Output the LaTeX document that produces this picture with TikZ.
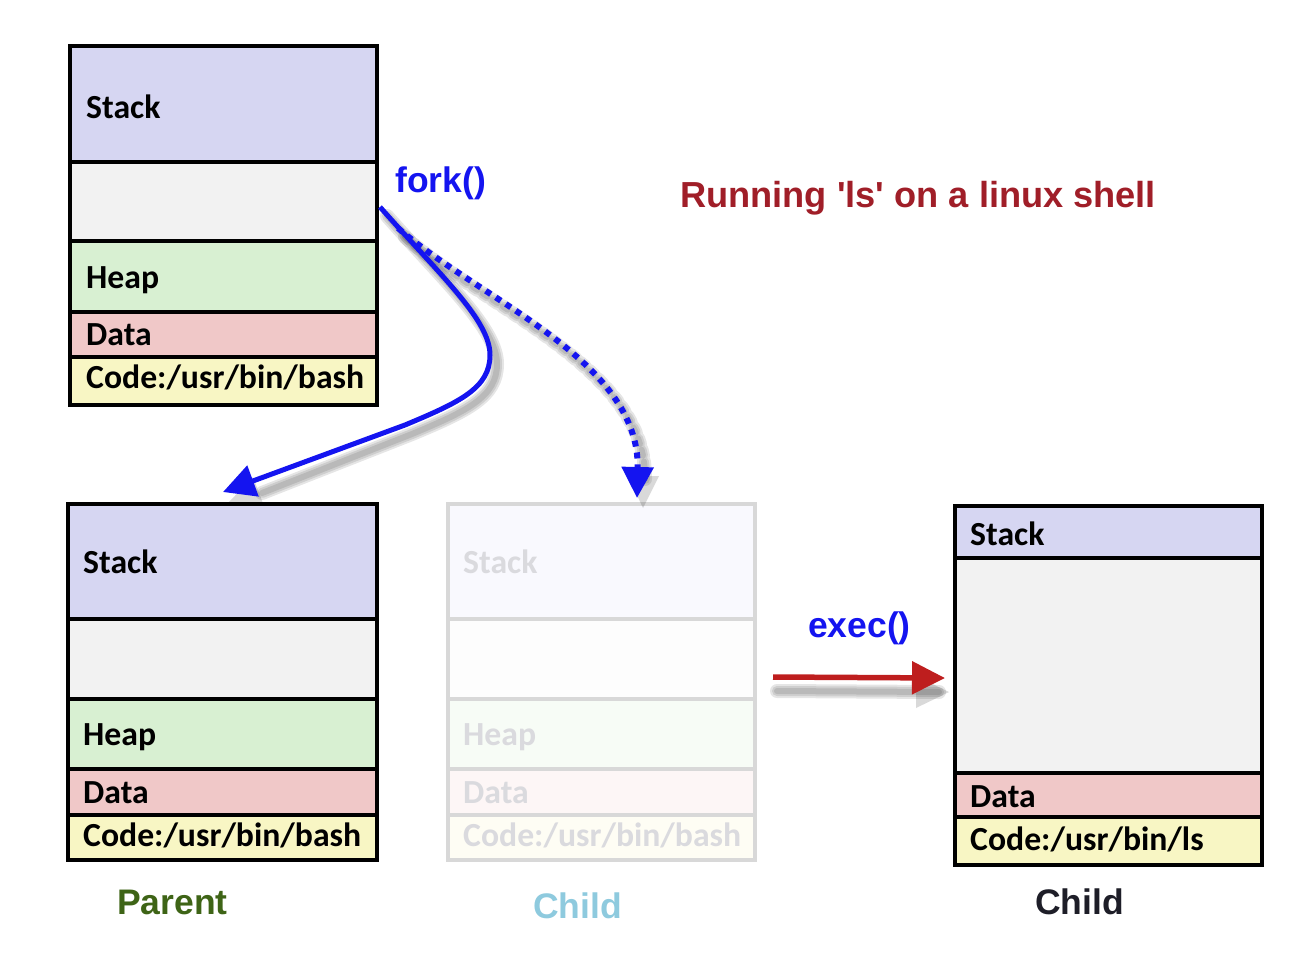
\documentclass[tikz,border=0pt]{standalone}
\usepackage{fontspec}
\setmainfont{Liberation Sans}
\newfontfamily\boxfont{Carlito}
\usetikzlibrary{arrows.meta}
\definecolor{stackc}{RGB}{214,214,242}
\definecolor{emptyc}{RGB}{242,242,242}
\definecolor{heapc}{RGB}{216,240,210}
\definecolor{datac}{RGB}{240,200,200}
\definecolor{codec}{RGB}{248,246,196}
\definecolor{fstackc}{RGB}{249,249,254}
\definecolor{femptyc}{RGB}{253,253,253}
\definecolor{fheapc}{RGB}{247,252,246}
\definecolor{fdatac}{RGB}{253,246,246}
\definecolor{fcodec}{RGB}{254,253,244}
\definecolor{fborder}{RGB}{216,216,216}
\definecolor{ftext}{RGB}{218,218,222}
\definecolor{forkblue}{RGB}{20,20,240}
\definecolor{execred}{RGB}{190,30,30}
\definecolor{titlered}{RGB}{160,30,40}
\definecolor{parentgreen}{RGB}{62,100,22}
\definecolor{childblue}{RGB}{142,202,222}
\definecolor{childdark}{RGB}{30,30,40}
\tikzset{
  boxline/.style={line width=3.5pt, draw=black},
  fboxline/.style={line width=3.5pt, draw=fborder},
  seglabel/.style={anchor=base west, inner sep=0pt, font=\boxfont\bfseries\fontsize{33.7}{40}\selectfont},
  biglabel/.style={anchor=base west, inner sep=0pt, font=\bfseries\fontsize{35.5}{42}\selectfont},
  forkline/.style={draw=forkblue, line width=5pt},
  shadowline/.style={draw=black, opacity=0.10, line cap=round},
}
\begin{document}
\begin{tikzpicture}[x=1pt,y=-1pt]
\useasboundingbox (0,0) rectangle (1297,979);

% ---------- top parent box ----------
\fill[stackc] (70,46) rectangle (377,162);
\fill[emptyc] (70,162) rectangle (377,241);
\fill[heapc] (70,241) rectangle (377,312);
\fill[datac] (70,312) rectangle (377,357);
\fill[codec] (70,357) rectangle (377,405);
\draw[boxline] (70,162) -- (377,162) (70,241) -- (377,241) (70,312) -- (377,312) (70,357) -- (377,357);
\draw[boxline] (70,46) rectangle (377,405);
\node[seglabel] (tstack) at (86,118) {Stack};
\node[seglabel] (theap) at (86,288) {Heap};
\node[seglabel] (tdata) at (86,345) {Data};
\node[seglabel] (tcode) at (86,388) {Code:/usr/bin/bash};

% ---------- bottom parent box ----------
\fill[stackc] (68,504) rectangle (377,619);
\fill[emptyc] (68,619) rectangle (377,699);
\fill[heapc] (68,699) rectangle (377,769);
\fill[datac] (68,769) rectangle (377,815);
\fill[codec] (68,815) rectangle (377,860);
\draw[boxline] (68,619) -- (377,619) (68,699) -- (377,699) (68,769) -- (377,769) (68,815) -- (377,815);
\draw[boxline] (68,504) rectangle (377,860);
\node[seglabel] (pstack) at (83,573) {Stack};
\node[seglabel] (pheap) at (83,745) {Heap};
\node[seglabel] (pdata) at (83,803) {Data};
\node[seglabel] (pcode) at (83,846) {Code:/usr/bin/bash};

% ---------- faded child box ----------
\fill[fstackc] (448,504) rectangle (755,619);
\fill[femptyc] (448,619) rectangle (755,699);
\fill[fheapc] (448,699) rectangle (755,769);
\fill[fdatac] (448,769) rectangle (755,815);
\fill[fcodec] (448,815) rectangle (755,860);
\draw[fboxline] (448,619) -- (755,619) (448,699) -- (755,699) (448,769) -- (755,769) (448,815) -- (755,815);
\draw[fboxline] (448,504) rectangle (755,860);
\node[seglabel, text=ftext] (fstack) at (463,573) {Stack};
\node[seglabel, text=ftext] (fheap) at (463,745) {Heap};
\node[seglabel, text=ftext] (fdata) at (463,803) {Data};
\node[seglabel, text=ftext] (fcode) at (463,846) {Code:/usr/bin/bash};

% ---------- exec'd child box ----------
\fill[stackc] (955,506) rectangle (1262,558);
\fill[emptyc] (955,558) rectangle (1262,773);
\fill[datac] (955,773) rectangle (1262,817);
\fill[codec] (955,817) rectangle (1262,865);
\draw[boxline] (955,558) -- (1262,558) (955,773) -- (1262,773) (955,817) -- (1262,817);
\draw[boxline] (955,506) rectangle (1262,865);
\node[seglabel] (cstack) at (970,545) {Stack};
\node[seglabel] (cdata) at (970,807) {Data};
\node[seglabel] (ccode) at (970,850) {Code:/usr/bin/ls};

% ---------- labels ----------
\node[biglabel, text=forkblue] (fork) at (395,192) {fork()};
\node[biglabel, text=titlered, font=\bfseries\fontsize{36.2}{42}\selectfont] (title) at (680,207) {Running \textquotesingle ls\textquotesingle{} on a linux shell};
\node[biglabel, text=forkblue] (exec) at (808,637) {exec()};
\node[biglabel, text=parentgreen] (parent) at (117,914) {Parent};
\node[biglabel, text=childblue] (childf) at (533,918) {Child};
\node[biglabel, text=childdark] (childx) at (1035,914) {Child};

% ---------- connector end points ----------
\coordinate (forkstart) at (380,207);
\coordinate (dotstart) at (398,228);
\coordinate (parentin) at (223,492);
\coordinate (childin) at (637,498);
\coordinate (execstart) at (773,677);
\coordinate (execend) at (945,678);

% ---------- shadows ----------
\foreach \w in {14,10,6}{
  \draw[shadowline, line width=\w pt] ([shift={(7,9)}]forkstart) .. controls +(60,68) and +(0,-35) .. ([shift={(7,9)}]490,355) .. controls +(0,33) and +(55,-23) .. ([shift={(7,9)}]405,425) -- ([shift={(7,9)}]255,484);
  \draw[shadowline, line width=\w pt, dash pattern=on 6pt off 6pt] ([shift={(7,9)}]dotstart) .. controls +(82,72) and ([shift={(7,9)}]640,360) .. ([shift={(7,9)}]638,470);
  \draw[shadowline, line width=\w pt] ([shift={(4,14)}]execstart) -- ([shift={(4,14)}]935,678);
}
\fill[black, opacity=0.15] ([shift={(6,10)}]parentin) -- (253,477) -- (264,506) -- cycle;
\fill[black, opacity=0.15] ([shift={(6,10)}]childin) -- (628,476) -- (659,476) -- cycle;
\fill[black, opacity=0.15] ([shift={(4,14)}]execend) -- (916,676) -- (916,708) -- cycle;

% ---------- connectors ----------
\draw[forkline, -{Triangle[length=32pt,width=32pt]}]
  (forkstart) .. controls +(60,68) and +(0,-35) .. (490,355)
  .. controls +(0,33) and +(55,-23) .. (405,425) -- (parentin);
\draw[forkline, line width=6pt, dash pattern=on 6pt off 6pt, -{Triangle[length=31pt,width=31pt]}]
  (dotstart) .. controls +(82,72) and (640,360) .. (childin);
\draw[draw=execred, line width=5.5pt, -{Triangle[length=33pt,width=32pt]}, execred] (execstart) -- (execend);
\end{tikzpicture}
\end{document}
